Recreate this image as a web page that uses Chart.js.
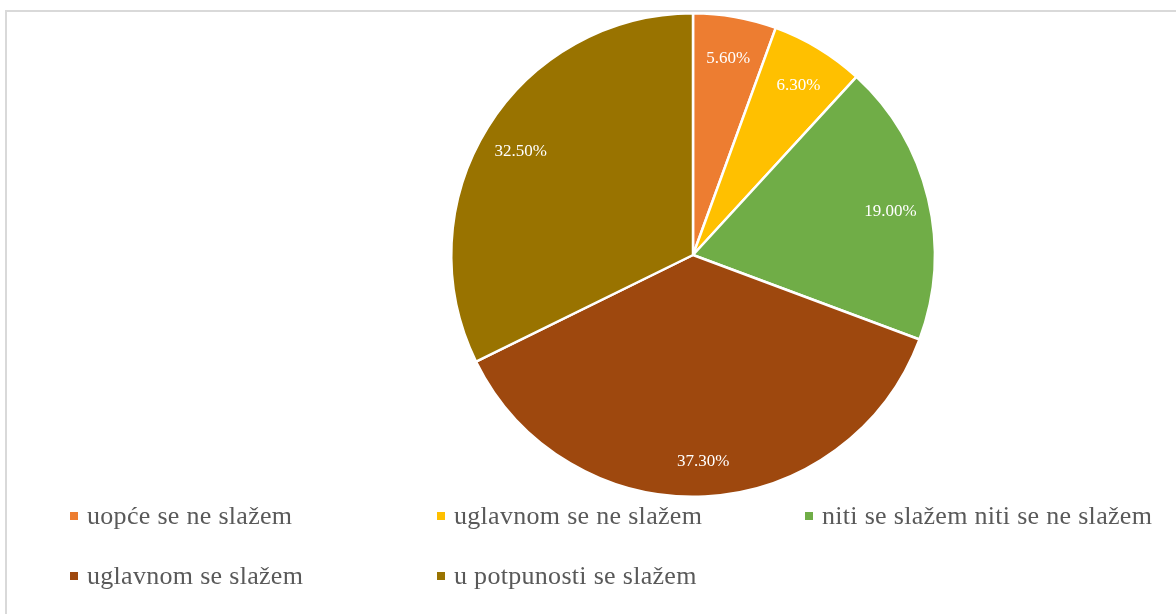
<!DOCTYPE html>
<html>
<head>
<meta charset="utf-8">
<script src="https://cdn.jsdelivr.net/npm/chart.js@4"></script>
<style>
html,body{margin:0;padding:0;background:#fff;}
#wrap{position:absolute;left:0;top:0;width:1176px;height:614px;}
#frame{position:absolute;left:5px;top:10px;width:1180px;height:620px;border:2px solid #d9d9d9;box-sizing:border-box;}
</style>
</head>
<body>
<div id="wrap"><div id="frame"></div><canvas id="c" width="1176" height="614"></canvas></div>
<script>
const categories = ['uopće se ne slažem','uglavnom se ne slažem','niti se slažem niti se ne slažem','uglavnom se slažem','u potpunosti se slažem'];
const values = [5.6, 6.3, 19.0, 37.3, 32.5];
const valueLabels = ['5.60%','6.30%','19.00%','37.30%','32.50%'];
const colors = ['#ED7D31','#FFC000','#70AD47','#9E480E','#997300'];

const labelPlugin = {
  id:'sliceLabels',
  afterDatasetsDraw(chart){
    const ctx = chart.ctx;
    const meta = chart.getDatasetMeta(0);
    ctx.save();
    ctx.font = '17px "Liberation Serif", "Times New Roman", serif';
    ctx.fillStyle = '#ffffff';
    ctx.textAlign = 'center';
    ctx.textBaseline = 'middle';
    meta.data.forEach((arc,i)=>{
      const p = arc.getProps(['x','y','startAngle','endAngle','outerRadius'], true);
      const a = (p.startAngle + p.endAngle)/2;
      const r = p.outerRadius * 0.84;
      ctx.fillText(valueLabels[i], p.x + Math.cos(a)*r, p.y + Math.sin(a)*r + 4);
    });
    ctx.restore();
  }
};

const legendPlugin = {
  id:'gridLegend',
  afterDraw(chart){
    const ctx = chart.ctx;
    const colX = [70, 437, 805];
    const rowY = [516, 576];
    ctx.save();
    ctx.font = '26px "Liberation Serif", "Times New Roman", serif';
    try { ctx.letterSpacing = '0.3px'; } catch(e) {}
    ctx.textBaseline = 'middle';
    ctx.textAlign = 'left';
    categories.forEach((name,i)=>{
      const x = colX[i%3], y = rowY[Math.floor(i/3)];
      ctx.fillStyle = colors[i];
      ctx.fillRect(x, y-4, 8, 8);
      ctx.fillStyle = '#595959';
      ctx.fillText(name, x+17, y+1);
    });
    ctx.restore();
  }
};

new Chart(document.getElementById('c'), {
  type:'pie',
  data:{
    labels: categories,
    datasets:[{data: values, backgroundColor: colors, borderColor:'#ffffff', borderWidth:2.5}]
  },
  options:{
    responsive:false,
    animation:false,
    layout:{padding:{left:450, right:240, top:11, bottom:115}},
    plugins:{legend:{display:false}, tooltip:{enabled:false}}
  },
  plugins:[labelPlugin, legendPlugin]
});
</script>
</body>
</html>
